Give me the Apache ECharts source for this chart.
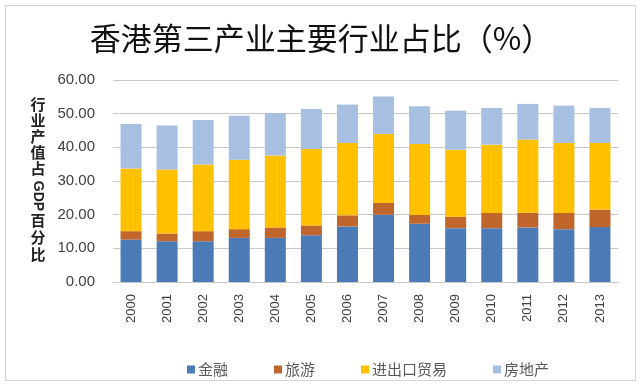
<!DOCTYPE html>
<html><head><meta charset="utf-8">
<script src="https://cdn.jsdelivr.net/npm/echarts@6/dist/echarts.min.js"></script>
<style>html,body{margin:0;padding:0;background:#fff}#c{width:640px;height:386px}</style>
</head><body><div id="c"></div>
<script>
const years = ['2000','2001','2002','2003','2004','2005','2006','2007','2008','2009','2010','2011','2012','2013'];
const seriesNames = ['金融','旅游','进出口贸易','房地产'];
const finance = [12.6,12.1,12.1,13.1,13.1,13.9,16.5,20.0,17.3,16.0,16.0,16.2,15.7,16.3];
const tourism = [2.5,2.3,3.0,2.6,3.1,2.9,3.3,3.5,2.6,3.4,4.5,4.4,4.8,5.2];
const trade = [18.6,19.0,19.8,20.6,21.4,22.7,21.5,20.5,21.1,19.9,20.3,21.7,20.8,19.8];
const other = [13.2,13.1,13.2,13.1,12.6,11.9,11.4,11.1,11.2,11.6,10.9,10.6,11.1,10.4];
const yTicks = [0,10,20,30,40,50,60];
const colors = ['#4a7bb7','#c0652b','#ffc000','#a7c0e2'];
const dataSets = [finance,tourism,trade,other];

const chart = echarts.init(document.getElementById('c'));
const FONT = '"Noto Sans CJK SC", "Noto Sans", sans-serif';
chart.setOption({
  animation:false,
  backgroundColor:'#fff',
  title:{text:'香港第三产业主要行业占比（%）',left:316,textAlign:'center',top:18,
    textStyle:{fontSize:31,fontWeight:'normal',color:'#111',fontFamily:FONT}},
  legend:{data:seriesNames,left:182,top:357,itemWidth:8,itemHeight:8,itemGap:46,icon:'rect',
    textStyle:{fontSize:15,color:'#595959',fontFamily:FONT,padding:[0,0,0,-2]}},
  grid:{left:113,right:22,top:80,bottom:104},
  xAxis:{type:'category',data:years,
    axisLine:{show:true,lineStyle:{color:'#c8c8c8'}},axisTick:{show:false},
    axisLabel:{rotate:90,fontSize:13,color:'#404040',margin:12,fontFamily:'"Liberation Sans", Arial, sans-serif'}},
  yAxis:{type:'value',min:0,max:60,interval:10,
    axisLine:{show:false},axisTick:{show:false},
    splitLine:{lineStyle:{color:'#c8c8c8'}},
    axisLabel:{fontSize:15,color:'#404040',margin:18,fontFamily:'"Liberation Sans", Arial, sans-serif',
      formatter:v=>yTicks.includes(v)?v.toFixed(2):''}},
  graphic:[
    {type:'rect',shape:{x:5.5,y:5.5,width:630,height:375},style:{fill:'none',stroke:'#d4d4d4',lineWidth:1}},
    {type:'text',x:38,y:96,style:{text:'行\n业\n产\n值\n占',font:'bold 15px '+FONT,textAlign:'center',lineHeight:16,fill:'#222'}},
    {type:'text',x:38,y:196,rotation:-Math.PI/2,style:{text:'GDP',font:'bold 14px "Liberation Sans", Arial, sans-serif',textAlign:'center',textVerticalAlign:'middle',fill:'#222'}},
    {type:'text',x:38,y:212,style:{text:'百\n分\n比',font:'bold 15px '+FONT,textAlign:'center',lineHeight:17,fill:'#222'}}
  ],
  series:seriesNames.map((n,i)=>({name:n,type:'bar',stack:'total',barWidth:21,
    itemStyle:{color:colors[i]},data:dataSets[i]}))
});
</script></body></html>
